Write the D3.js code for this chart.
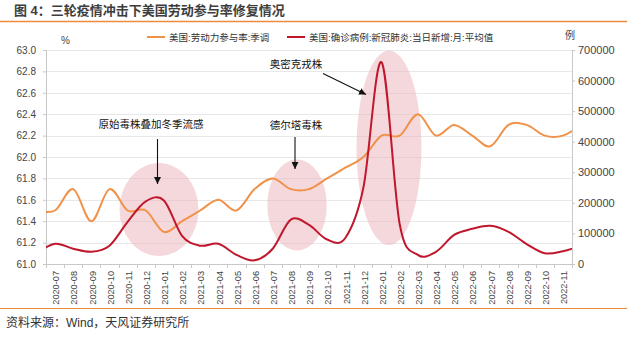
<!DOCTYPE html>
<html>
<head>
<meta charset="utf-8">
<script src="https://cdn.jsdelivr.net/npm/d3@7"></script>
<style>
  html, body { margin: 0; padding: 0; background: #fff; }
  svg { display: block; }
  text { font-family: "Liberation Sans", "Noto Sans CJK SC", sans-serif; }
</style>
</head>
<body>
<svg id="chart" width="640" height="337"></svg>
<script>
// Months (first and last entries sit just outside the visible axis range)
const months = [
  "2020-06","2020-07","2020-08","2020-09","2020-10","2020-11","2020-12",
  "2021-01","2021-02","2021-03","2021-04","2021-05","2021-06",
  "2021-07","2021-08","2021-09","2021-10","2021-11","2021-12",
  "2022-01","2022-02","2022-03","2022-04","2022-05","2022-06",
  "2022-07","2022-08","2022-09","2022-10","2022-11","2022-12"
];
// US labor force participation rate, seasonally adjusted (%)
const participation = [
  61.5, 61.5, 61.7, 61.4, 61.7, 61.5, 61.5,
  61.3, 61.4, 61.5, 61.6, 61.5, 61.7,
  61.8, 61.7, 61.7, 61.8, 61.9, 62.0,
  62.2, 62.2, 62.4, 62.2, 62.3, 62.2,
  62.1, 62.3, 62.3, 62.2, 62.2, 62.3
];
// US new COVID-19 cases, monthly average of daily counts
const newCases = [
  35000, 66000, 50000, 40000, 60000, 138000, 205000,
  208000, 92000, 60000, 66000, 30000, 12000,
  50000, 145000, 128000, 80000, 85000, 250000,
  660000, 130000, 30000, 40000, 95000, 115000,
  125000, 105000, 65000, 35000, 42000, 60000
];
const leftTicks = [61.0, 61.2, 61.4, 61.6, 61.8, 62.0, 62.2, 62.4, 62.6, 62.8, 63.0];
const rightTicks = [0, 100000, 200000, 300000, 400000, 500000, 600000, 700000];
const seriesNames = ["美国:劳动力参与率:季调", "美国:确诊病例:新冠肺炎:当日新增:月:平均值"];
// Outbreak waves: centre month (+ fraction of a month), half-span in months, case range covered
const waves = [
  { label: "原始毒株叠加冬季流感", month: "2020-12", shift: 0.73, span: 2.18, lo: 26000, hi: 330000 },
  { label: "德尔塔毒株", month: "2021-08", shift: 0.34, span: 1.64, lo: 44000, hi: 342000 },
  { label: "奥密克戎株", month: "2022-01", shift: 0.41, span: 1.79, lo: 62000, hi: 698000 }
];

const orange = "#F0924A", red = "#C0172C";
const svg = d3.select("#chart");
const W = 640, H = 337;
const L = 46, R = 572, T = 50, B = 264;

const first = 1, last = months.length - 2;      // visible index range
const x = d3.scaleLinear().domain([first - 0.5, last + 0.5]).range([L, R]);
const yL = d3.scaleLinear().domain([61, 63]).range([B, T]);
const yR = d3.scaleLinear().domain([0, 700000]).range([B, T]);
const idx = m => months.indexOf(m);

// Header and footer
svg.append("text").attr("x", 14).attr("y", 15).attr("font-size", 13).attr("font-weight", "bold")
  .attr("fill", "#3d3d3d").text("图 4：三轮疫情冲击下美国劳动参与率修复情况");
svg.append("line").attr("x1", 0).attr("x2", 627).attr("y1", 21.5).attr("y2", 21.5)
  .attr("stroke", "#EE8A3C").attr("stroke-width", 1.5);
svg.append("line").attr("x1", 0).attr("x2", 627).attr("y1", 308.5).attr("y2", 308.5)
  .attr("stroke", "#EE8A3C").attr("stroke-width", 1.2);
svg.append("text").attr("x", 6).attr("y", 327).attr("font-size", 12).attr("fill", "#333")
  .text("资料来源：Wind，天风证券研究所");

// Gridlines
svg.append("g").selectAll("line").data(leftTicks).join("line")
  .attr("x1", L).attr("x2", R).attr("y1", d => Math.round(yL(d)) + 0.5).attr("y2", d => Math.round(yL(d)) + 0.5)
  .attr("stroke", "#e8e8e8").attr("stroke-width", 1);

// Shaded outbreak waves
const waveG = svg.append("g");
waves.forEach(w => {
  const c = idx(w.month) + w.shift;
  const x0 = x(c - w.span), x1 = x(c + w.span);
  const y0 = yR(w.hi), y1 = yR(w.lo);
  waveG.append("ellipse")
    .attr("cx", (x0 + x1) / 2).attr("cy", (y0 + y1) / 2)
    .attr("rx", (x1 - x0) / 2).attr("ry", (y1 - y0) / 2)
    .attr("fill", "rgba(236,178,184,0.5)");
});

// Axes
const axL = svg.append("g").attr("transform", `translate(${L},0)`)
  .call(d3.axisLeft(yL).tickValues(leftTicks).tickFormat(d3.format(".1f")).tickSize(3).tickPadding(7));
const axR = svg.append("g").attr("transform", `translate(${R},0)`)
  .call(d3.axisRight(yR).tickValues(rightTicks).tickFormat(d3.format("d")).tickSize(3).tickPadding(3));
[axL, axR].forEach(a => {
  a.select(".domain").attr("stroke", "#c8c8c8");
  a.selectAll(".tick line").attr("stroke", "#c8c8c8");
  a.selectAll(".tick text").attr("fill", "#444").style("font-family", "'Liberation Sans', sans-serif");
});
axL.selectAll(".tick text").attr("font-size", 10);
axR.selectAll(".tick text").attr("font-size", 11);

const visIdx = d3.range(first, last + 1);
const axB = svg.append("g");
axB.append("line").attr("x1", L).attr("x2", R).attr("y1", B + 0.5).attr("y2", B + 0.5).attr("stroke", "#c8c8c8");
axB.selectAll("line.tk").data(d3.range(first - 0.5, last + 1, 1)).join("line").attr("class", "tk")
  .attr("x1", d => Math.round(x(d)) + 0.5).attr("x2", d => Math.round(x(d)) + 0.5)
  .attr("y1", B).attr("y2", B + 4).attr("stroke", "#c8c8c8");
axB.selectAll("text").data(visIdx).join("text")
  .attr("transform", i => `translate(${x(i) + 1},271) rotate(-90)`)
  .attr("text-anchor", "end").attr("dy", "0.35em")
  .attr("font-size", 9.2).attr("fill", "#444")
  .text(i => months[i]);

// Unit labels
svg.append("text").attr("x", 61).attr("y", 44).attr("font-size", 10).attr("fill", "#444").text("%");
svg.append("text").attr("x", 565).attr("y", 39).attr("font-size", 10).attr("fill", "#444").text("例");

// Series
svg.append("clipPath").attr("id", "plotClip").append("rect")
  .attr("x", L).attr("y", 0).attr("width", R - L).attr("height", H);
const lines = svg.append("g").attr("clip-path", "url(#plotClip)");
const curve = d3.curveCardinal.tension(0);
lines.append("path").datum(participation.map((v, i) => [i, v]))
  .attr("d", d3.line().x(d => x(d[0])).y(d => yL(d[1])).curve(curve))
  .attr("fill", "none").attr("stroke", orange).attr("stroke-width", 2);
lines.append("path").datum(newCases.map((v, i) => [i, v]))
  .attr("d", d3.line().x(d => x(d[0])).y(d => yR(d[1])).curve(curve))
  .attr("fill", "none").attr("stroke", red).attr("stroke-width", 2);

// Legend
const leg = svg.append("g").attr("font-size", 9.5).attr("fill", "#333");
[[147, orange, seriesNames[0]], [287, red, seriesNames[1]]].forEach(([lx, c, t]) => {
  leg.append("line").attr("x1", lx).attr("x2", lx + 18).attr("y1", 37).attr("y2", 37)
    .attr("stroke", c).attr("stroke-width", 2);
  leg.append("text").attr("x", lx + 22).attr("y", 40.5).attr("fill", "#333").text(t);
});

// Annotations
const defs = svg.append("defs");
defs.append("marker").attr("id", "arrow").attr("viewBox", "0 0 10 10")
  .attr("refX", 10).attr("refY", 5).attr("markerWidth", 7).attr("markerHeight", 7)
  .attr("markerUnits", "userSpaceOnUse").attr("orient", "auto")
  .append("path").attr("d", "M0,0 L10,5 L0,10 z").attr("fill", "#111");

const notes = [
  { text: waves[0].label, tx: 151, ty: 128, a: [157.5, 139, 157.5, 184] },
  { text: waves[1].label, tx: 296, ty: 129, a: [295, 137, 295, 169] },
  { text: waves[2].label, tx: 296, ty: 68, a: [323, 73.5, 366, 94.5] }
];
notes.forEach(n => {
  svg.append("text").attr("x", n.tx).attr("y", n.ty).attr("text-anchor", "middle")
    .attr("font-size", 10.5).attr("fill", "#111").text(n.text);
  svg.append("line").attr("x1", n.a[0]).attr("y1", n.a[1]).attr("x2", n.a[2]).attr("y2", n.a[3])
    .attr("stroke", "#111").attr("stroke-width", 1.1).attr("marker-end", "url(#arrow)");
});
</script>
</body>
</html>
